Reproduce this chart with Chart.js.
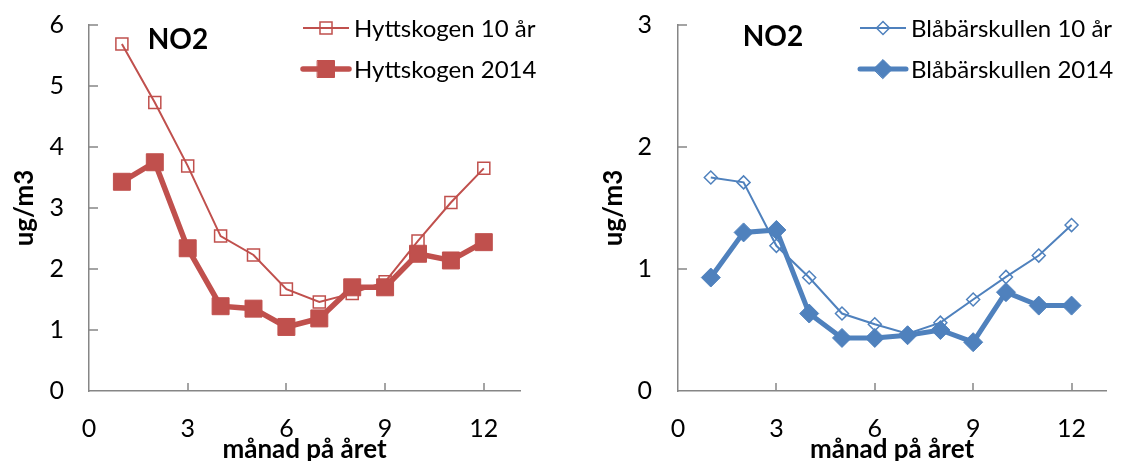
<!DOCTYPE html>
<html>
<head>
<meta charset="utf-8">
<script src="https://cdn.jsdelivr.net/npm/chart.js@4.4.1/dist/chart.umd.min.js"></script>
<style>
  body { margin: 0; background: #fff; width: 1124px; height: 461px; overflow: hidden; position: relative; }
  canvas { position: absolute; top: 0; }
</style>
</head>
<body>
<canvas id="chartHytt" width="589" height="461" style="left:0"></canvas>
<canvas id="chartBlab" width="535" height="461" style="left:589px"></canvas>
<script>
// monthly NO2 means, ug/m3
const months = [1, 2, 3, 4, 5, 6, 7, 8, 9, 10, 11, 12];
const hyttskogen10 = [5.69, 4.73, 3.69, 2.54, 2.23, 1.67, 1.46, 1.60, 1.79, 2.46, 3.09, 3.65];
const hyttskogen2014 = [3.43, 3.75, 2.34, 1.39, 1.35, 1.05, 1.19, 1.70, 1.70, 2.25, 2.14, 2.44];
const blabar10 = [1.75, 1.71, 1.19, 0.93, 0.635, 0.547, 0.47, 0.56, 0.75, 0.935, 1.11, 1.36];
const blabar2014 = [0.93, 1.30, 1.32, 0.635, 0.435, 0.435, 0.457, 0.50, 0.40, 0.81, 0.70, 0.70];

const monthTicks = [0, 3, 6, 9, 12];
const hyttTicks = [0, 1, 2, 3, 4, 5, 6];
const blabTicks = [0, 1, 2, 3];

const red = '#C0504D';
const blue = '#4F81BD';
const axisGrey = '#868686';
const fontFamily = 'Lato, "Open Sans", sans-serif';

const toPoints = vals => months.map((m, i) => ({ x: m, y: vals[i] }));

// Excel style tick marks pointing into the plot
const innerTicks = {
  id: 'innerTicks',
  beforeDatasetsDraw(chart) {
    const { ctx, chartArea, scales: { x, y } } = chart;
    ctx.save();
    ctx.strokeStyle = axisGrey;
    ctx.lineWidth = 1.5;
    ctx.beginPath();
    x.ticks.forEach(t => {
      if (t.value === x.min) return;
      const px = Math.round(x.getPixelForValue(t.value));
      ctx.moveTo(px, chartArea.bottom);
      ctx.lineTo(px, chartArea.bottom - 8);
    });
    y.ticks.forEach(t => {
      if (t.value === y.min) return;
      const py = Math.round(y.getPixelForValue(t.value));
      ctx.moveTo(chartArea.left, py);
      ctx.lineTo(chartArea.left + 9, py);
    });
    ctx.stroke();
    ctx.restore();
  }
};

// NO2 tag and the series legend, both sitting inside the plot
const insideLabels = {
  id: 'insideLabels',
  afterDraw(chart, args, opts) {
    const ctx = chart.ctx;
    ctx.save();
    ctx.fillStyle = '#000';
    ctx.font = `bold 28px ${fontFamily}`;
    ctx.textAlign = 'center';
    ctx.textBaseline = 'middle';
    ctx.fillText(opts.tag, opts.tagX, opts.tagY);

    ctx.font = `24px ${fontFamily}`;
    ctx.textAlign = 'left';
    chart.data.datasets.forEach((ds, i) => {
      const y = opts.legendY[i];
      const x0 = opts.legendX;
      ctx.strokeStyle = ds.borderColor;
      ctx.lineWidth = ds.borderWidth;
      ctx.lineCap = ds.borderWidth > 3 ? 'round' : 'butt';
      ctx.beginPath();
      ctx.moveTo(x0, y);
      ctx.lineTo(x0 + 46, y);
      ctx.stroke();

      ctx.fillStyle = ds.pointBackgroundColor;
      ctx.strokeStyle = ds.pointBorderColor;
      ctx.lineWidth = ds.pointBorderWidth;
      Chart.helpers.drawPoint(ctx, {
        pointStyle: ds.pointStyle,
        radius: ds.pointRadius,
        rotation: 0,
        borderWidth: ds.pointBorderWidth
      }, x0 + 23, y);

      ctx.fillStyle = '#000';
      ctx.fillText(ds.label, x0 + 51, y + 1);
    });
    ctx.restore();
  }
};

function makeChart(id, series, yTicks, yMax, xMax, opts) {
  const datasets = series.map(s => ({
    label: s.label,
    data: toPoints(s.values),
    borderColor: s.color,
    borderWidth: s.lineWidth,
    pointStyle: s.marker,
    pointRadius: s.radius,
    pointHoverRadius: s.radius,
    pointBackgroundColor: s.fill,
    pointBorderColor: s.color,
    pointBorderWidth: s.markerLine,
    order: s.order,
    tension: 0
  }));

  return new Chart(document.getElementById(id), {
    type: 'line',
    data: { datasets },
    options: {
      responsive: false,
      animation: false,
      layout: { padding: { top: 25, right: opts.padRight, left: 0, bottom: 0 } },
      plugins: {
        legend: { display: false },
        tooltip: { enabled: false },
        insideLabels: opts.labels
      },
      scales: {
        x: {
          type: 'linear',
          min: 0,
          max: xMax,
          afterBuildTicks: scale => { scale.ticks = monthTicks.map(v => ({ value: v })); },
          afterFit: scale => {
            scale.height = 70;
            scale.paddingLeft = 0;
            scale.paddingRight = 0;
          },
          grid: { display: true, drawOnChartArea: false, drawTicks: false },
          border: { display: true, color: axisGrey, width: 1.5 },
          ticks: { color: '#000', padding: 23, maxRotation: 0, font: { family: fontFamily, size: 25 } },
          title: {
            display: true,
            text: 'månad på året',
            color: '#000',
            padding: { top: 0, bottom: -4 },
            font: { family: fontFamily, size: 26, weight: 'bold' }
          }
        },
        y: {
          min: 0,
          max: yMax,
          afterBuildTicks: scale => { scale.ticks = yTicks.map(v => ({ value: v })); },
          afterFit: scale => {
            // keep the label overhang from pushing the plot down
            scale.width = 89;
            scale.paddingTop = 0;
            scale.paddingBottom = 0;
          },
          grid: { display: true, drawOnChartArea: false, drawTicks: false },
          border: { display: true, color: axisGrey, width: 1.5 },
          ticks: { color: '#000', padding: opts.yTickPad, font: { family: fontFamily, size: 25 } },
          title: {
            display: true,
            text: 'ug/m3',
            color: '#000',
            padding: { top: 9, bottom: 0 },
            font: { family: fontFamily, size: 26, weight: 'bold' }
          }
        }
      }
    },
    plugins: [innerTicks, insideLabels]
  });
}

makeChart('chartHytt', [
  { label: 'Hyttskogen 10 år', values: hyttskogen10, color: red, lineWidth: 2, marker: 'rect', radius: 8.5, fill: 'rgba(0,0,0,0)', markerLine: 1.5, order: 1 },
  { label: 'Hyttskogen 2014', values: hyttskogen2014, color: red, lineWidth: 5.5, marker: 'rect', radius: 12, fill: red, markerLine: 1, order: 0 }
], hyttTicks, 6, 13.1, {
  padRight: 69,
  yTickPad: 25,
  labels: { tag: 'NO2', tagX: 178, tagY: 40, legendX: 303, legendY: [28, 69] }
});

makeChart('chartBlab', [
  { label: 'Blåbärskullen 10 år', values: blabar10, color: blue, lineWidth: 2, marker: 'rectRot', radius: 6.5, fill: 'rgba(0,0,0,0)', markerLine: 1.5, order: 1 },
  { label: 'Blåbärskullen 2014', values: blabar2014, color: blue, lineWidth: 5, marker: 'rectRot', radius: 9.5, fill: blue, markerLine: 1, order: 0 }
], blabTicks, 3, 13.05, {
  padRight: 18,
  yTickPad: 26,
  labels: { tag: 'NO2', tagX: 184, tagY: 37, legendX: 271, legendY: [28, 69] }
});
</script>
</body>
</html>
